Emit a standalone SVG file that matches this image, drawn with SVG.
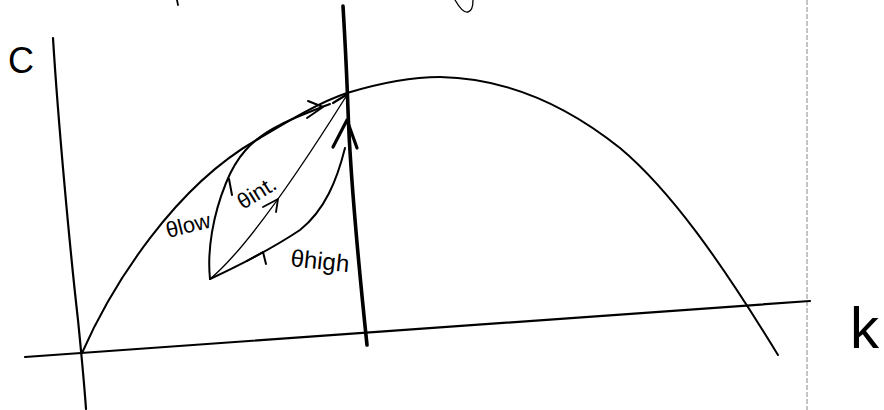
<svg xmlns="http://www.w3.org/2000/svg" width="884" height="410" viewBox="0 0 884 410">
<style>
.ink{fill:none;stroke:#000;stroke-linecap:round;stroke-linejoin:round}
.lbl{font-family:"Liberation Sans",Arial,sans-serif;fill:#000}
</style>
<rect width="884" height="410" fill="#fff"/>
<g id="page-edge"><line x1="807" y1="0" x2="807" y2="410" stroke="#8a8a8a" stroke-width="1" stroke-dasharray="5 2"/></g>
<g id="fragments" class="ink">
<path d="M177,0 L178,5" stroke-width="1.8"/>
<path d="M455,0 C459,7 464,13 468,12 C472,11 473,5 473,0" stroke-width="1.3"/>
</g>
<g id="axes" class="ink">
<path d="M53,38 C58,120 70,250 78,320 C81,350 84,380 86,409" stroke-width="2.2"/>
<path d="M25,357 L810,301" stroke-width="2.2"/>
</g>
<g id="hump-curve" class="ink">
<path d="M82,353 C112,285 175,185 260,138 C290,120 320,102 347,93 C380,83 410,77 440,77 C500,78 560,100 620,148 C670,190 720,260 778,355" stroke-width="2"/>
</g>
<g id="vertical-line" class="ink">
<path d="M343,6 C345,40 347,80 348,110 C350,170 356,240 367,345" stroke-width="3.6"/>
<path d="M333,147 L347,120 L357,148" stroke-width="3.2"/>
</g>
<g id="paths" class="ink">
<path id="theta-low" d="M210,279 C207,250 213,215 226,183 C236,158 250,140 280,125 C295,117 312,111 330,104" stroke-width="2"/>
<path d="M308,101 L323,107 L307,118" stroke-width="2"/>
<path d="M229,179 L232,195" stroke-width="2"/>
<path id="theta-int" d="M210,279 C245,250 300,170 347,95" stroke-width="1.4"/>
<path d="M333,103 L346,95" stroke-width="2.2"/>
<path d="M263,207 L278,199 L276,212" stroke-width="1.8"/>
<path id="theta-high" d="M210,279 C240,265 270,250 300,230 C325,210 337,180 345,148" stroke-width="2"/>
<path d="M247,261 L263,252 L266,264" stroke-width="2"/>
</g>
<g id="labels">
<text class="lbl" x="8" y="73" font-size="36">C</text>
<text class="lbl" x="850" y="348" font-size="58">k</text>
<text class="lbl" x="168" y="238" font-size="22" transform="rotate(-14 168 238)">θlow</text>
<text class="lbl" x="243" y="210" font-size="22" transform="rotate(-32 243 210)">θint.</text>
<text class="lbl" x="290" y="266" font-size="24" transform="rotate(6 290 266)">θhigh</text>
</g>
</svg>
